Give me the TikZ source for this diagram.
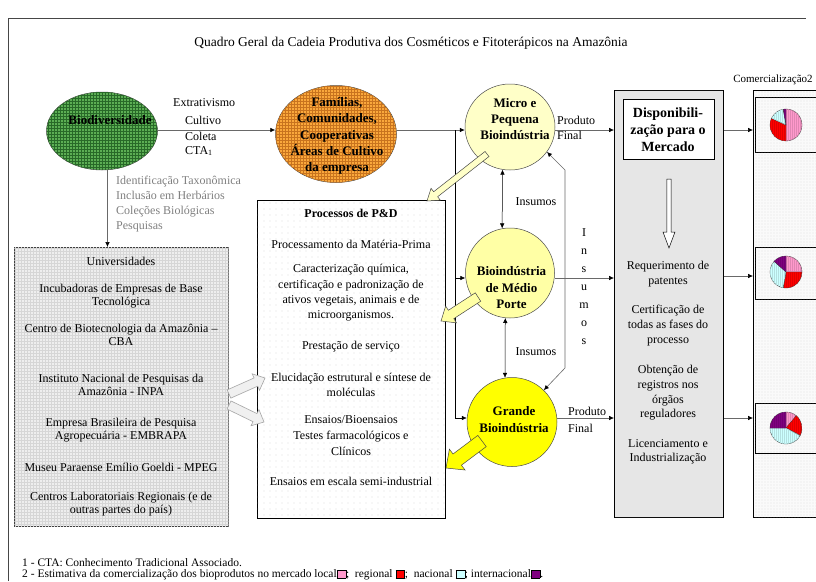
\documentclass[tikz,border=0pt]{standalone}
\usepackage{fontspec}
\setmainfont{Liberation Serif}
\usetikzlibrary{arrows.meta,calc,patterns,patterns.meta,shapes.geometric}

\definecolor{bioGreen}{RGB}{92,174,84}
\definecolor{bioGrid}{RGB}{40,105,40}
\definecolor{famOrange}{RGB}{250,168,60}
\definecolor{famGrid}{RGB}{200,115,30}
\definecolor{paleYellow}{RGB}{255,255,200}
\definecolor{midYellow}{RGB}{255,255,165}
\definecolor{strongYellow}{RGB}{255,255,0}
\definecolor{labelGray}{RGB}{128,128,128}
\definecolor{lineGray}{RGB}{105,105,105}
\definecolor{mktLocal}{RGB}{255,153,204}
\definecolor{mktRegional}{RGB}{255,0,0}
\definecolor{mktNacional}{RGB}{204,255,255}
\definecolor{mktIntl}{RGB}{128,0,128}

% wide outlined arrow: #1 style, #2 tail, #3 tip, #4 shaft half width, #5 head half width, #6 head length
\newcommand\blockarrow[6]{%
  \coordinate (ba-neck) at ($(#3)!#6!(#2)$);
  \path[#1] ($(#2)!#4!90:(#3)$) -- ($(ba-neck)!#4!-90:(#2)$) -- ($(ba-neck)!#5!-90:(#2)$)
    -- (#3) -- ($(ba-neck)!#5!90:(#2)$) -- ($(ba-neck)!#4!90:(#2)$) -- ($(#2)!#4!-90:(#3)$) -- cycle;
}
% one slice of a market pie: #1 centre, #2 start angle, #3 end angle, #4 colour
\newcommand\pieslice[4]{%
  \filldraw[fill=#4, draw=gray!45!black, line width=0.35pt,
    postaction={pattern={Lines[angle=90,distance=2pt,line width=0.2pt]}, pattern color=#4!88!black}]
    (#1) -- ++(#2:16pt) arc[start angle=#2, end angle=#3, radius=16pt] -- cycle;
}
% colour key used in the footnote
\newcommand\mktswatch[1]{{\fboxsep=0pt\fboxrule=0.4pt\fcolorbox{black}{#1}{\rule{0pt}{7.5pt}\rule{8.5pt}{0pt}}}}

\begin{document}
\begin{tikzpicture}[x=1pt,y=-1pt,
  conn/.style={draw=lineGray, line width=0.6pt, -{Latex[length=5pt,width=4.5pt,color=black]}},
  bconn/.style={draw=black, line width=0.5pt, -{Latex[length=5pt,width=4.5pt]}},
  dconn/.style={draw=black, line width=0.5pt, {Latex[length=5pt,width=4.5pt]}-{Latex[length=5pt,width=4.5pt]}},
  body/.style={font=\fontsize{12}{15}\selectfont, align=center, inner sep=0pt},
  bodyb/.style={font=\fontsize{13}{16.2}\selectfont\bfseries, align=center, inner sep=0pt},
  panel/.style={rectangle, anchor=north west, inner sep=0pt, line width=0.6pt},
  blob/.style={ellipse, inner sep=0pt, draw=black!70, line width=0.5pt},
]
\useasboundingbox (0,0) rectangle (816,581);
\fill[white] (0,0) rectangle (816,581);

% outer frame
\draw[gray!55!black, line width=0.9pt] (8,581) -- (8,18) -- (806,18);

\node[font=\fontsize{13.5}{16}\selectfont, inner sep=0pt] (title) at (411,43)
  {Quadro Geral da Cadeia Produtiva dos Cosméticos e Fitoterápicos na Amazônia};

% panels
\node[panel, minimum width=214pt, minimum height=279pt, draw=black!75, fill=gray!13,
  postaction={pattern=grid, pattern color=gray!32}] (univ) at (14,247) {};
\node[panel, minimum width=188pt, minimum height=318pt, draw=black, fill=white,
  postaction={pattern={Dots[distance=6pt,radius=0.45pt]}, pattern color=gray!75}] (pd) at (257,200) {};
\node[panel, minimum width=109pt, minimum height=427pt, draw=black, fill=gray!15,
  postaction={pattern={Dots[distance=2pt,radius=0.4pt]}, pattern color=gray!70}] (dispbox) at (614,90) {};
\node[panel, minimum width=91pt, minimum height=60pt, draw=black, fill=white] (dispin) at (623,99) {};
\node[panel, minimum width=80pt, minimum height=427pt, draw=black, fill=gray!4,
  postaction={pattern={Dots[distance=3pt,radius=0.4pt]}, pattern color=gray!55}] (com) at (753,90) {};
\node[panel, minimum width=80pt, minimum height=55pt, draw=black, fill=gray!4,
  postaction={pattern={Dots[distance=3pt,radius=0.4pt]}, pattern color=gray!55}] (pbox1) at (755,97) {};
\node[panel, minimum width=80pt, minimum height=52pt, draw=black, fill=gray!4,
  postaction={pattern={Dots[distance=3pt,radius=0.4pt]}, pattern color=gray!55}] (pbox2) at (755,247) {};
\node[panel, minimum width=80pt, minimum height=50pt, draw=black, fill=gray!4,
  postaction={pattern={Dots[distance=3pt,radius=0.4pt]}, pattern color=gray!55}] (pbox3) at (755,403) {};

% actors
\node[blob, minimum width=111pt, minimum height=78pt, fill=bioGreen,
  postaction={pattern=grid, pattern color=bioGrid}] (bio) at (102,131) {};
\node[blob, minimum width=121pt, minimum height=97pt, fill=famOrange,
  postaction={pattern=grid, pattern color=famGrid}] (fam) at (336,134) {};
\node[blob, minimum width=90pt, minimum height=86pt, fill=paleYellow] (micro) at (510,127) {};
\node[blob, minimum width=89pt, minimum height=90pt, fill=midYellow] (med) at (510,273) {};
\node[blob, minimum width=90pt, minimum height=89pt, fill=strongYellow] (grande) at (512,422) {};

% connectors
\coordinate (rowA) at (0,130);
\coordinate (rowB) at (0,278);
\coordinate (rowB2) at (0,276);
\coordinate (rowC) at (0,418);
\coordinate (rowT) at (0,318);
\coordinate (trunk) at (455,130);
\coordinate (loopTop) at (565,170);
\coordinate (loopBot) at (565,368);

\draw[conn] (bio.east |- rowA) -- (fam.west |- rowA);
\draw[conn] (fam.east |- rowA) -- (micro.west |- rowA);
\draw[black, line width=0.5pt] (trunk) -- (trunk |- rowC);
\draw[bconn] (trunk |- rowB) -- (med.west |- rowB);
\draw[bconn] (trunk |- rowC) -- (grande.west |- rowC);
\draw[black, line width=0.5pt] (pd.east |- rowT) -- (trunk |- rowT);
\draw[conn] (bio.-82) -- (bio.-82 |- univ.north);

\draw[conn] (micro.east |- rowA) -- (dispbox.west |- rowA);
\draw[conn] (med.east |- rowB) -- (dispbox.west |- rowB);
\draw[conn] (grande.east |- rowC) -- (dispbox.west |- rowC);
\draw[conn] (dispbox.east |- rowA) -- (com.west |- rowA);
\draw[conn] (dispbox.east |- rowB2) -- (com.west |- rowB2);
\draw[conn] (dispbox.east |- rowC) -- (com.west |- rowC);

\draw[dconn] (micro.260) -- (med.100);
\draw[dconn] (med.264) -- (grande.99);
\draw[draw=lineGray, line width=0.6pt,
  {Latex[length=5pt,width=4.5pt,color=black]}-{Latex[length=5pt,width=4.5pt,color=black]}]
  (micro.-34) -- (loopTop) -- (loopBot) -- (grande.45);

% wide arrows
\coordinate (ya1-tail) at (487,154); \coordinate (ya1-tip) at (427,201);
\coordinate (ya2-tail) at (478,297); \coordinate (ya2-tip) at (441,321);
\coordinate (ya3-tail) at (482,441); \coordinate (ya3-tip) at (446,468);
\coordinate (ga1-tail) at (229,394); \coordinate (ga1-tip) at (265,378);
\coordinate (ga2-tail) at (229,405); \coordinate (ga2-tip) at (264,422);
\coordinate (dn-tail) at (669,179); \coordinate (dn-tip) at (669,248);
\blockarrow{fill=paleYellow, draw=gray!55!black, line width=0.5pt}{ya1-tail}{ya1-tip}{3.2pt}{7.5pt}{11pt}
\blockarrow{fill=midYellow, draw=gray!55!black, line width=0.5pt}{ya2-tail}{ya2-tip}{5pt}{10pt}{12pt}
\blockarrow{fill=strongYellow, draw=gray!55!black, line width=0.5pt}{ya3-tail}{ya3-tip}{7pt}{13pt}{14pt}
\blockarrow{fill=gray!12, draw=gray!70, line width=0.6pt}{ga1-tail}{ga1-tip}{4.5pt}{9pt}{10pt}
\blockarrow{fill=gray!12, draw=gray!70, line width=0.6pt}{ga2-tail}{ga2-tip}{4.5pt}{9pt}{10pt}
\blockarrow{fill=white, draw=black, line width=0.5pt}{dn-tail}{dn-tip}{2.2pt}{6pt}{16pt}

% market pies
\coordinate (pie1) at (786,125);
\coordinate (pie2) at (786,272);
\coordinate (pie3) at (786,428);
\pieslice{pie1}{90}{-90}{mktLocal}
\pieslice{pie1}{-90}{-205}{mktRegional}
\pieslice{pie1}{-205}{-260}{mktNacional}
\pieslice{pie1}{-260}{-270}{mktIntl}
\pieslice{pie2}{90}{0}{mktLocal}
\pieslice{pie2}{0}{-100}{mktRegional}
\pieslice{pie2}{-100}{-222}{mktNacional}
\pieslice{pie2}{-222}{-270}{mktIntl}
\pieslice{pie3}{90}{50}{mktLocal}
\pieslice{pie3}{50}{-28}{mktRegional}
\pieslice{pie3}{-28}{-180}{mktNacional}
\pieslice{pie3}{-180}{-270}{mktIntl}

% labels on the supply side
\node[bodyb] (bio-t) at (110,120) {Biodiversidade};
\node[body, anchor=west] (l-extr) at (173,103) {Extrativismo};
\node[body, anchor=west] (l-cult) at (185,120) {Cultivo};
\node[body, anchor=west] (l-col) at (185,136) {Coleta};
\node[body, anchor=west] (l-cta) at (185,151) {CTA\textsubscript{1}};
\node[anchor=west, align=left, inner sep=0pt, font=\fontsize{12}{14.7}\selectfont, text=labelGray] (taxo) at (116,204)
  {Identificação Taxonômica\\Inclusão em Herbários\\Coleções Biológicas\\Pesquisas};
\node[bodyb] (fam-t) at (337,136) {Famílias,\\Comunidades,\\Cooperativas\\Áreas de Cultivo\\da empresa};

% industry labels
\node[bodyb, font=\fontsize{13}{16}\selectfont\bfseries] (micro-t) at (515,119.5) {Micro e\\Pequena\\Bioindústria};
\node[body, anchor=west, align=left] (prod1) at (557,127.5) {Produto\\Final};
\node[body] (ins1) at (536,202) {Insumos};
\node[bodyb, font=\fontsize{13}{16.5}\selectfont\bfseries] (med-t) at (511.5,288) {Bioindústria\\de Médio\\Porte};
\node[body] (ins2) at (536,352) {Insumos};
\node[body, font=\fontsize{12}{18}\selectfont] (ins3) at (584,287) {I\\n\\s\\u\\m\\o\\s};
\node[bodyb, font=\fontsize{13}{17}\selectfont\bfseries] (gr-t) at (514,419.5) {Grande\\Bioindústria};
\node[body, anchor=west, align=left, font=\fontsize{12}{17}\selectfont] (prod2) at (568,419.5) {Produto\\Final};

% research and development
\node[bodyb, font=\fontsize{12}{15}\selectfont\bfseries] (pd-t) at (351,213) {Processos de P\&D};
\node[body] (pd1) at (351,244) {Processamento da Matéria-Prima};
\node[body, font=\fontsize{12}{15.3}\selectfont] (pd2) at (351,293) {Caracterização química,\\certificação e padronização de\\ativos vegetais, animais e de\\microorganismos.};
\node[body] (pd3) at (351,347) {Prestação de serviço};
\node[body] (pd4) at (351,384.5) {Elucidação estrutural e síntese de\\moléculas};
\node[body, font=\fontsize{12}{16}\selectfont] (pd5) at (351,436) {Ensaios/Bioensaios\\Testes farmacológicos e\\Clínicos};
\node[body] (pd6) at (351,481) {Ensaios em escala semi-industrial};

% institutions
\node[body, font=\fontsize{12}{13}\selectfont] (u1) at (121,261) {Universidades};
\node[body, font=\fontsize{12}{13}\selectfont] (u2) at (121,296.5) {Incubadoras de Empresas de Base\\Tecnológica};
\node[body, font=\fontsize{12}{13}\selectfont] (u3) at (121,334.5) {Centro de Biotecnologia da Amazônia –\\CBA};
\node[body, font=\fontsize{12}{13}\selectfont] (u4) at (121,384.5) {Instituto Nacional de Pesquisas da\\Amazônia - INPA};
\node[body, font=\fontsize{12}{13}\selectfont] (u5) at (121,430.5) {Empresa Brasileira de Pesquisa\\Agropecuária - EMBRAPA};
\node[body, font=\fontsize{12}{13}\selectfont] (u6) at (121,467) {Museu Paraense Emílio Goeldi - MPEG};
\node[body, font=\fontsize{12}{13}\selectfont] (u7) at (121,504.5) {Centros Laboratoriais Regionais (e de\\outras partes do país)};

% market access
\node[bodyb, font=\fontsize{14}{17}\selectfont\bfseries] (disp-t) at (668,130) {Disponibili-\\zação para o\\Mercado};
\node[body] (m1) at (668,274.5) {Requerimento de\\patentes};
\node[body] (m2) at (668,326) {Certificação de\\todas as fases do\\processo};
\node[body, font=\fontsize{12}{14.7}\selectfont] (m3) at (668,393) {Obtenção de\\registros nos\\órgãos\\reguladores};
\node[body, font=\fontsize{12}{14}\selectfont] (m4) at (668,452) {Licenciamento e\\Industrialização};
\node[font=\fontsize{11}{13}\selectfont, inner sep=0pt] (com-t) at (773,80) {Comercialização2};

% footnotes
\node[anchor=west, inner sep=0pt, font=\fontsize{11.5}{13}\selectfont] (fn1) at (22,563)
  {1 - CTA: Conhecimento Tradicional Associado.};
\node[anchor=west, inner sep=0pt, font=\fontsize{11.5}{13}\selectfont] (fn2) at (22,575)
  {2 - Estimativa da comercialização dos bioprodutos no mercado local\mktswatch{mktLocal};\ \ regional \mktswatch{mktRegional};\ \ nacional \mktswatch{mktNacional};\ internacional\mktswatch{mktIntl}.};
\end{tikzpicture}
\end{document}
